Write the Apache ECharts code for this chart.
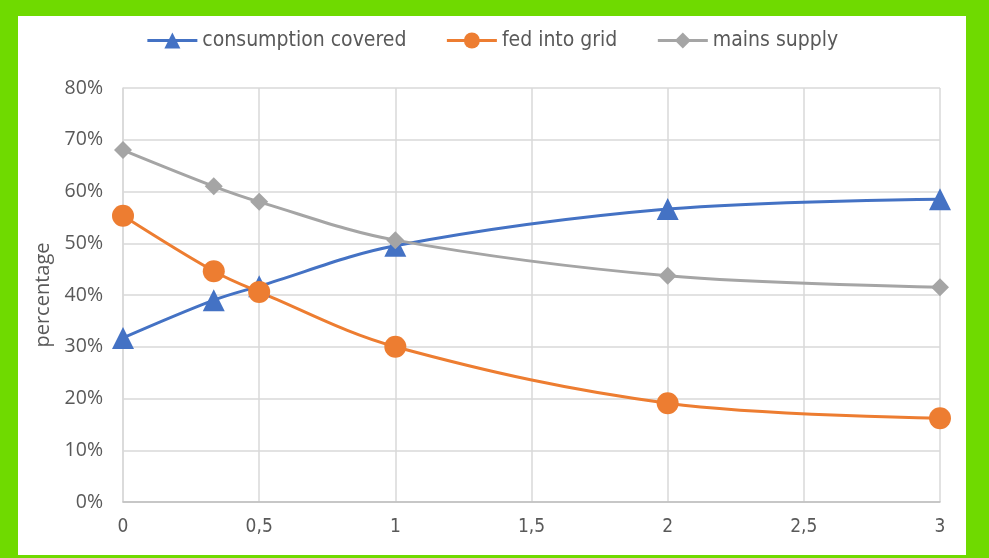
<!DOCTYPE html>
<html>
<head>
<meta charset="utf-8">
<script src="https://cdn.jsdelivr.net/npm/echarts@6/dist/echarts.min.js"></script>
<style>
  html, body { margin: 0; padding: 0; background: #6fda00; }
  #chart { position: absolute; left: 18px; top: 16px; width: 948px; height: 539px; background: #fff; }
</style>
</head>
<body>
<div id="chart"></div>
<script>
// x positions and percentages
let xs = [0, 1 / 3, 0.5, 1, 2, 3]
let covered = [31.7, 39.0, 41.7, 49.5, 56.6, 58.5]
let fedIn = [55.3, 44.6, 40.6, 30.0, 19.1, 16.2]
let mains = [68.0, 61.0, 58.0, 50.6, 43.7, 41.5]

const pair = arr => xs.map((x, i) => [x, arr[i] / 100])

let textColor = '#595959'
let narrow = '"DejaVu Sans Condensed", "Liberation Sans", sans-serif'
let myChart = echarts.init(document.getElementById('chart'))

function line(name, data, color, symbol, size) {
    return {
        name: name,
        type: 'line',
        smooth: 0.35,
        data: pair(data),
        symbol: symbol,
        symbolSize: size,
        lineStyle: {color: color, width: 3},
        itemStyle: {color: color},
        z: 3
    }
}

myChart.setOption({
    animation: false,
    textStyle: {fontFamily: 'Open Sans'},
    legend: {
        top: 9,
        left: 'center',
        itemWidth: 50,
        itemHeight: 20,
        itemGap: 39,
        lineStyle: {width: 3},
        textStyle: {fontFamily: narrow, fontSize: 21, color: textColor},
        data: ['consumption covered', 'fed into grid', 'mains supply']
    },
    grid: {left: 105, right: 26, top: 72, bottom: 53},
    xAxis: {
        type: 'value',
        min: 0,
        max: 3,
        interval: 0.5,
        axisLine: {lineStyle: {color: '#bfbfbf', width: 1.5}},
        axisTick: {show: false},
        splitLine: {show: true, lineStyle: {color: '#d9d9d9', width: 1.5}},
        axisLabel: {
            color: textColor,
            fontSize: 19,
            fontFamily: narrow,
            margin: 16,
            formatter: v => String(v).replace('.', ',')
        }
    },
    yAxis: {
        type: 'value',
        min: 0,
        max: 0.8,
        interval: 0.1,
        name: 'percentage',
        nameLocation: 'middle',
        nameGap: 70,
        nameTextStyle: {color: textColor, fontSize: 20, fontFamily: 'Open Sans'},
        axisLine: {show: true, lineStyle: {color: '#d9d9d9', width: 1.5}},
        axisTick: {show: false},
        splitLine: {lineStyle: {color: '#d9d9d9', width: 1.5}},
        axisLabel: {
            color: textColor,
            fontSize: 19.5,
            margin: 20,
            formatter: v => Math.round(v * 100) + '%'
        }
    },
    series: [
        line('consumption covered', covered, '#4472c4', 'triangle', 22),
        line('fed into grid', fedIn, '#ed7d31', 'circle', 22),
        line('mains supply', mains, '#a5a5a5', 'diamond', 18)
    ]
})
</script>
</body>
</html>
